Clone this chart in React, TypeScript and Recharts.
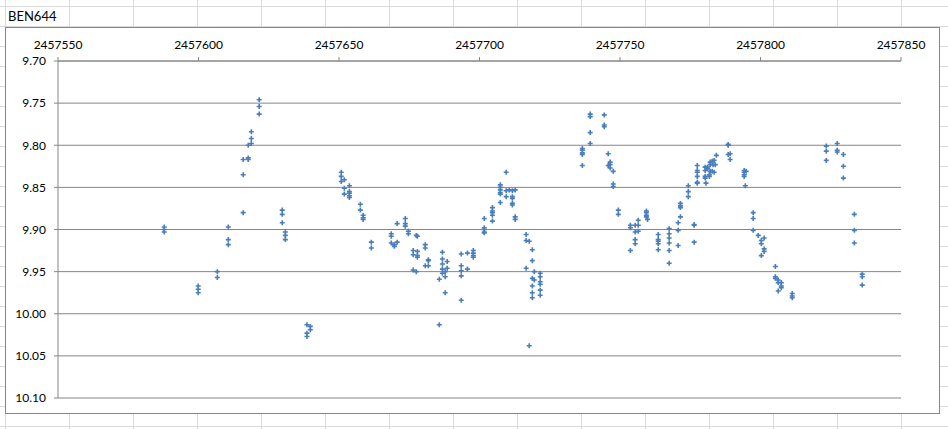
import { CartesianGrid, Scatter, ScatterChart, XAxis, YAxis } from 'recharts'

// Julian dates of each observing night and the magnitudes measured that night
const nightDates = [
  2457587.8, 2457599.9, 2457606.7, 2457610.6, 2457615.9, 2457617.7, 2457618.8, 2457621.6,
  2457629.8, 2457630.9, 2457638.6, 2457639.8, 2457650.8, 2457651.9, 2457653.7, 2457657.6,
  2457658.6, 2457661.5, 2457668.6, 2457669.7, 2457670.7, 2457673.6, 2457674.7, 2457676.4,
  2457677.5, 2457677.9, 2457680.7, 2457681.8, 2457685.7, 2457686.8, 2457687.8, 2457688.5,
  2457693.5, 2457695.7, 2457697.8, 2457701.7, 2457704.6, 2457707.4, 2457709.5, 2457710.6,
  2457711.7, 2457712.7, 2457716.6, 2457717.7, 2457718.8, 2457719.5, 2457721.6, 2457736.6,
  2457739.4, 2457744.4, 2457745.8, 2457746.5, 2457747.6, 2457749.4, 2457753.7, 2457755.4,
  2457756.5, 2457759.4, 2457759.8, 2457763.6, 2457767.5, 2457770.7, 2457771.5, 2457774.3,
  2457776.4, 2457777.5, 2457780.3, 2457780.6, 2457781.1, 2457781.8, 2457782.1, 2457782.8,
  2457783.1, 2457783.5, 2457783.9, 2457784.3, 2457788.5, 2457789.2, 2457794.2, 2457794.6,
  2457794.9, 2457797.4, 2457799.2, 2457800.3, 2457801.3, 2457805.3, 2457806.3, 2457807.4,
  2457811.3, 2457823.4, 2457827.3, 2457829.5, 2457833.4, 2457836.2,
]

const nightMags = [
  [9.897, 9.9, 9.903], [9.967, 9.971, 9.975], [9.95, 9.957], [9.897, 9.912, 9.918],
  [9.88, 9.835, 9.817], [9.815, 9.817, 9.8], [9.798, 9.792, 9.784], [9.746, 9.754, 9.763],
  [9.877, 9.882, 9.892], [9.903, 9.907, 9.912], [10.013, 10.023, 10.027], [10.015, 10.019],
  [9.832, 9.837, 9.843], [9.841, 9.851, 9.858], [9.848, 9.855, 9.857, 9.86, 9.862], [9.87, 9.877],
  [9.883, 9.886, 9.888], [9.915, 9.922], [9.905, 9.908, 9.916], [9.918, 9.92],
  [9.915, 9.893], [9.887, 9.893, 9.896], [9.902, 9.905], [9.925, 9.93, 9.948],
  [9.907, 9.95], [9.908, 9.926, 9.931, 9.933], [9.918, 9.922, 9.943], [9.936, 9.937, 9.943],
  [9.959, 10.013], [9.927, 9.935, 9.941, 9.947, 9.952], [9.95, 9.956, 9.975], [9.938, 9.946],
  [9.929, 9.943, 9.949, 9.955, 9.984], [9.928, 9.947], [9.925, 9.928, 9.931, 9.933],
  [9.887, 9.898, 9.9, 9.903, 9.904], [9.874, 9.878, 9.88, 9.883, 9.89],
  [9.847, 9.85, 9.853, 9.856, 9.858, 9.868], [9.832, 9.854, 9.861], [9.853],
  [9.854, 9.861, 9.863, 9.869, 9.871], [9.853, 9.885, 9.888], [9.906, 9.913, 9.946], [9.914, 10.038],
  [9.924, 9.937, 9.958, 9.967, 9.975, 9.981], [9.95, 9.96], [9.952, 9.956, 9.962, 9.965, 9.972, 9.978],
  [9.804, 9.806, 9.809, 9.811, 9.824], [9.763, 9.766, 9.785, 9.798], [9.764, 9.776, 9.778],
  [9.81, 9.824], [9.82, 9.823, 9.827], [9.831, 9.846, 9.849], [9.877, 9.882], [9.895, 9.898, 9.925],
  [9.895, 9.903, 9.912, 9.917], [9.889, 9.895, 9.902], [9.878, 9.88, 9.883, 9.885], [9.888],
  [9.906, 9.912, 9.914, 9.917, 9.924], [9.899, 9.905, 9.91, 9.916, 9.925, 9.94], [9.892, 9.901, 9.919],
  [9.885, 9.869, 9.872, 9.874], [9.848, 9.855, 9.861], [9.894, 9.895, 9.915],
  [9.824, 9.83, 9.832, 9.837, 9.844, 9.845], [9.826, 9.83, 9.837, 9.839], [9.845], [9.826, 9.828],
  [9.835, 9.837], [9.831, 9.82, 9.823], [9.819, 9.831], [9.823], [9.818, 9.832], [9.823], [9.812],
  [9.799, 9.8, 9.811], [9.81, 9.817], [9.83, 9.832, 9.835, 9.837], [9.848], [9.831],
  [9.88, 9.887, 9.901], [9.907], [9.913, 9.917, 9.931], [9.91, 9.923, 9.926], [9.944, 9.956, 9.958],
  [9.96, 9.963, 9.973], [9.963, 9.967, 9.969], [9.976, 9.979, 9.981], [9.801, 9.807, 9.818],
  [9.798, 9.806, 9.808], [9.811, 9.825, 9.839], [9.882, 9.901, 9.916], [9.953, 9.956, 9.966],
]

const jdTicks = [2457550, 2457600, 2457650, 2457700, 2457750, 2457800, 2457850]
const magTicks = [9.7, 9.75, 9.8, 9.85, 9.9, 9.95, 10.0, 10.05, 10.1]

const points = nightDates.flatMap((jd, i) => nightMags[i].map(mag => ({ jd, mag })))

const font = 'Lato, "Liberation Sans", sans-serif'
const gray = '#868686'

// Excel-style "+" marker
const PlusMarker = (props: any) => {
  const { cx, cy } = props
  if (cx == null || cy == null) return null
  return (
    <path
      d={`M${cx - 2.5},${cy}H${cx + 2.5}M${cx},${cy - 2.5}V${cy + 2.5}`}
      stroke='#4a7ebb'
      strokeWidth={1.6}
      fill='none'
    />
  )
}

const App = () => {
  return (
    <div
      style={{
        position: 'absolute', left: 0, top: 0, width: 948, height: 429, overflow: 'hidden',
        background: '#fff',
        backgroundImage: 'linear-gradient(to right, #dadada 1px, transparent 1px), linear-gradient(to bottom, #dadada 1px, transparent 1px)',
        backgroundSize: '64px 20px',
        backgroundPosition: '5px 6px',
      }}
    >
      <div style={{ position: 'absolute', left: 8, top: 8, fontFamily: font, fontSize: 13, color: '#000', lineHeight: '16px' }}>
        BEN644
      </div>
      <div style={{ position: 'absolute', left: 5, top: 27, width: 933, height: 385, border: `1px solid ${gray}`, background: '#fff' }}>
        <ScatterChart width={933} height={385} margin={{ top: 0, right: 38, bottom: 15, left: 0 }}>
          <CartesianGrid vertical={false} stroke={gray} strokeWidth={1} />
          <XAxis
            type='number'
            dataKey='jd'
            orientation='top'
            domain={[2457550, 2457850]}
            ticks={jdTicks}
            height={33}
            tickSize={4}
            tickMargin={8}
            axisLine={{ stroke: gray }}
            tickLine={{ stroke: gray }}
            tick={{ fill: '#000', fontSize: 12, fontFamily: font }}
          />
          <YAxis
            type='number'
            dataKey='mag'
            reversed
            domain={[9.7, 10.1]}
            ticks={magTicks}
            width={52}
            tickSize={4}
            tickMargin={8}
            axisLine={{ stroke: gray }}
            tickLine={{ stroke: gray }}
            tickFormatter={(v: number) => v.toFixed(2)}
            tick={{ fill: '#000', fontSize: 12, fontFamily: font }}
          />
          <Scatter data={points} shape={PlusMarker} isAnimationActive={false} />
        </ScatterChart>
      </div>
    </div>
  )
}

export default App
